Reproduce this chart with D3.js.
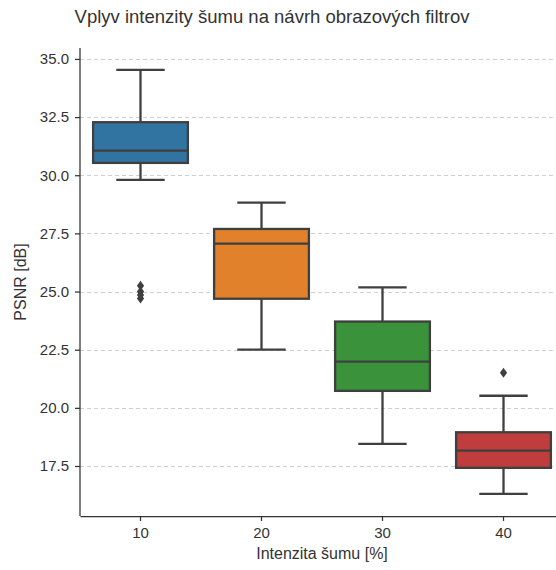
<!DOCTYPE html>
<html>
<head>
<meta charset="utf-8">
<script src="https://cdn.jsdelivr.net/npm/d3@7"></script>
<style>
  html, body { margin: 0; padding: 0; background: #fff; }
  svg { display: block; font-family: "Liberation Sans", Arial, sans-serif; }
</style>
</head>
<body>
<div id="chart"></div>
<script>
// ---- Data ----
const categories   = ["10", "20", "30", "40"];
const whiskerLow   = [29.8, 22.5, 18.45, 16.3];
const q1Values     = [30.53, 24.69, 20.73, 17.42];
const medianValues = [31.06, 27.06, 21.99, 18.16];
const q3Values     = [32.28, 27.69, 23.71, 18.95];
const whiskerHigh  = [34.53, 28.82, 25.18, 20.52];
const outliers     = [[25.25, 25.0, 24.85, 24.7], [], [], [21.51]];
const yTicks       = [17.5, 20.0, 22.5, 25.0, 27.5, 30.0, 32.5, 35.0];
const boxColors    = ["#3274a1", "#e1812c", "#3a923a", "#c03d3e"];

const title  = "Vplyv intenzity šumu na návrh obrazových filtrov";
const xTitle = "Intenzita šumu [%]";
const yTitle = "PSNR [dB]";

// ---- Layout ----
const W = 556, H = 570;
const mLeft = 80, mTop = 48, mBottom = 516, mRight = 564;

const svg = d3.select("#chart").append("svg")
  .attr("width", W).attr("height", H);

const x = d3.scaleBand().domain(categories).range([mLeft, mRight]).padding(0);
const y = d3.scaleLinear().domain([15.35, 35.47]).range([mBottom, mTop]);

const ink = "#333333";
const lineCol = "#3f3f3f";
const lw = 2.3;

// Grid
svg.append("g").selectAll("line").data(yTicks).join("line")
  .attr("x1", mLeft).attr("x2", mRight)
  .attr("y1", d => Math.round(y(d)) + 0.5).attr("y2", d => Math.round(y(d)) + 0.5)
  .attr("stroke", "#d0d0d0").attr("stroke-width", 1)
  .attr("stroke-dasharray", "4,3");

// Axes
const yAxis = svg.append("g").attr("transform", `translate(${mLeft},0)`)
  .call(d3.axisLeft(y).tickValues(yTicks).tickFormat(d3.format(".1f")).tickSize(5).tickPadding(6));
const xAxis = svg.append("g").attr("transform", `translate(0,${mBottom})`)
  .call(d3.axisBottom(x).tickSize(5).tickPadding(6).tickSizeOuter(0));

[yAxis, xAxis].forEach(g => {
  g.select(".domain").attr("stroke", ink).attr("stroke-width", 1.25);
  g.selectAll(".tick line").attr("stroke", ink).attr("stroke-width", 1.25);
  g.selectAll(".tick text").attr("fill", ink).style("font-size", "15px")
    .style("font-family", "'Liberation Sans', Arial, sans-serif");
});
yAxis.select(".domain").attr("d", `M0,${mTop}V${mBottom}`);

// Boxes
const bw = x.bandwidth() * 0.8;
const capW = bw / 2;
const g = svg.append("g");
categories.forEach((c, i) => {
  const cx = x(c) + x.bandwidth() / 2;
  g.append("line").attr("x1", cx).attr("x2", cx)
    .attr("y1", y(whiskerHigh[i])).attr("y2", y(q3Values[i]))
    .attr("stroke", lineCol).attr("stroke-width", lw);
  g.append("line").attr("x1", cx).attr("x2", cx)
    .attr("y1", y(q1Values[i])).attr("y2", y(whiskerLow[i]))
    .attr("stroke", lineCol).attr("stroke-width", lw);
  [whiskerHigh[i], whiskerLow[i]].forEach(v => {
    g.append("line").attr("x1", cx - capW / 2).attr("x2", cx + capW / 2)
      .attr("y1", y(v)).attr("y2", y(v))
      .attr("stroke", lineCol).attr("stroke-width", lw);
  });
  g.append("rect")
    .attr("x", cx - bw / 2 + 1).attr("width", bw - 2)
    .attr("y", y(q3Values[i])).attr("height", y(q1Values[i]) - y(q3Values[i]))
    .attr("fill", boxColors[i]).attr("stroke", lineCol).attr("stroke-width", lw);
  g.append("line").attr("x1", cx - bw / 2 + 1).attr("x2", cx + bw / 2 - 1)
    .attr("y1", y(medianValues[i])).attr("y2", y(medianValues[i]))
    .attr("stroke", lineCol).attr("stroke-width", lw);
  outliers[i].forEach(v => {
    const py = y(v);
    g.append("path")
      .attr("d", `M${cx},${py - 5}L${cx + 3.6},${py}L${cx},${py + 5}L${cx - 3.6},${py}Z`)
      .attr("fill", lineCol);
  });
});

// Titles
svg.append("text").attr("x", 272).attr("y", 23).attr("text-anchor", "middle")
  .attr("fill", ink).style("font-size", "18.5px").text(title);
svg.append("text").attr("x", (mLeft + mRight) / 2).attr("y", 559).attr("text-anchor", "middle")
  .attr("fill", ink).style("font-size", "16px").text(xTitle);
svg.append("text").attr("transform", `translate(26,${(mTop + mBottom) / 2}) rotate(-90)`)
  .attr("text-anchor", "middle").attr("fill", ink).style("font-size", "16px").text(yTitle);
</script>
</body>
</html>
